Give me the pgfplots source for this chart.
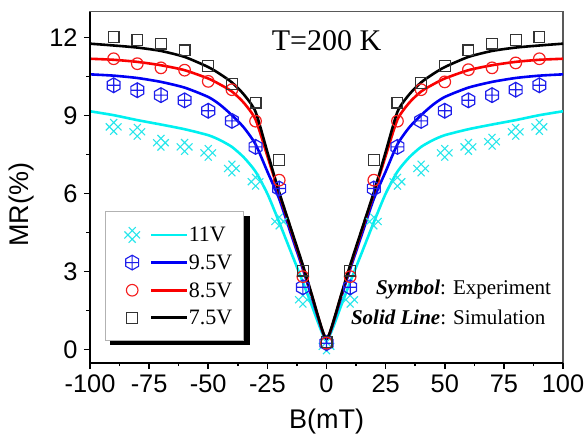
\documentclass[border=0pt]{standalone}
\usepackage{fontspec}
\setmainfont{Liberation Serif}
\newfontfamily\arial{Liberation Sans}
\usepackage{pgfplots}
\usepackage{pgfplotstable}
\pgfplotsset{compat=1.18}

\definecolor{mcyan}{RGB}{40,230,235}
\definecolor{lcyan}{RGB}{0,240,240}
\definecolor{mblue}{RGB}{30,30,235}
\definecolor{lblue}{RGB}{0,0,245}
\definecolor{mred}{RGB}{245,30,30}
\definecolor{lred}{RGB}{250,0,0}

\pgfdeclareplotmark{dblx}{%
  \pgfpathmoveto{\pgfpoint{-\pgfplotmarksize}{-0.45\pgfplotmarksize}}%
  \pgfpathlineto{\pgfpoint{0.45\pgfplotmarksize}{\pgfplotmarksize}}%
  \pgfpathmoveto{\pgfpoint{-0.45\pgfplotmarksize}{-\pgfplotmarksize}}%
  \pgfpathlineto{\pgfpoint{\pgfplotmarksize}{0.45\pgfplotmarksize}}%
  \pgfpathmoveto{\pgfpoint{-0.45\pgfplotmarksize}{\pgfplotmarksize}}%
  \pgfpathlineto{\pgfpoint{\pgfplotmarksize}{-0.45\pgfplotmarksize}}%
  \pgfpathmoveto{\pgfpoint{-\pgfplotmarksize}{0.45\pgfplotmarksize}}%
  \pgfpathlineto{\pgfpoint{0.45\pgfplotmarksize}{-\pgfplotmarksize}}%
  \pgfusepathqstroke}
\pgfdeclareplotmark{hexplus}{%
  \pgfpathmoveto{\pgfpoint{0pt}{\pgfplotmarksize}}%
  \pgfpathlineto{\pgfpoint{0.866\pgfplotmarksize}{0.5\pgfplotmarksize}}%
  \pgfpathlineto{\pgfpoint{0.866\pgfplotmarksize}{-0.5\pgfplotmarksize}}%
  \pgfpathlineto{\pgfpoint{0pt}{-\pgfplotmarksize}}%
  \pgfpathlineto{\pgfpoint{-0.866\pgfplotmarksize}{-0.5\pgfplotmarksize}}%
  \pgfpathlineto{\pgfpoint{-0.866\pgfplotmarksize}{0.5\pgfplotmarksize}}%
  \pgfpathclose
  \pgfpathmoveto{\pgfpoint{0pt}{\pgfplotmarksize}}%
  \pgfpathlineto{\pgfpoint{0pt}{-\pgfplotmarksize}}%
  \pgfpathmoveto{\pgfpoint{-0.866\pgfplotmarksize}{0pt}}%
  \pgfpathlineto{\pgfpoint{0.866\pgfplotmarksize}{0pt}}%
  \pgfusepathqstroke}

\pgfplotsset{
  legimg/.style n args={4}{%
    legend image code/.code={%
      \pgfpathrectangle{\pgfpoint{-8.35pt}{-4pt}}{\pgfpoint{35.85pt}{8pt}}%
      \pgfusepath{use as bounding box}%
      \begin{pgfscope}
        \pgfsetstrokecolor{#1}\pgfsetlinewidth{0.55pt}%
        \pgfplotmarksize=#3\relax
        \pgfuseplotmark{#2}%
      \end{pgfscope}
      \begin{pgfscope}
        \pgfsetstrokecolor{#4}\pgfsetlinewidth{1.4pt}%
        \pgfpathmoveto{\pgfpoint{9.65pt}{0pt}}%
        \pgfpathlineto{\pgfpoint{27.5pt}{0pt}}%
        \pgfusepath{stroke}%
      \end{pgfscope}
    }}}

% experimental data
\pgfplotstableread{
x y
-90 8.57
-80 8.38
-70 7.96
-60 7.80
-50 7.57
-40 6.97
-30 6.46
-20 4.93
-10 1.92
0 0.13
10 1.92
20 4.93
30 6.46
40 6.97
50 7.57
60 7.80
70 8.00
80 8.38
90 8.57
}\expA
\pgfplotstableread{
x y
-90 10.17
-80 9.98
-70 9.79
-60 9.59
-50 9.19
-40 8.80
-30 7.80
-20 6.20
-10 2.40
0 0.25
10 2.40
20 6.20
30 7.80
40 8.80
50 9.19
60 9.59
70 9.79
80 10.00
90 10.17
}\expB
\pgfplotstableread{
x y
-90 11.19
-80 11.00
-70 10.84
-60 10.75
-50 10.32
-40 10.00
-30 8.79
-20 6.52
-10 2.81
0 0.25
10 2.81
20 6.52
30 8.79
40 10.00
50 10.30
60 10.77
70 10.84
80 11.03
90 11.19
}\expC
\pgfplotstableread{
x y
-90 12.03
-80 11.92
-70 11.77
-60 11.51
-50 10.92
-40 10.23
-30 9.50
-20 7.29
-10 3.04
0 0.30
10 3.04
20 7.29
30 9.50
40 10.26
50 10.92
60 11.51
70 11.77
80 11.92
90 12.03
}\expD

% simulation curves
\pgfplotstableread{
x y
-100 9.17
-90 9.02
-80 8.83
-70 8.66
-60 8.48
-50 8.25
-45 8.06
-40 7.80
-35 7.40
-30 6.85
-25 6.00
-20 4.90
-15 3.75
-10 2.60
-6 1.65
-4 1.15
-2 0.68
-1 0.48
0 0.40
1 0.48
2 0.68
4 1.15
6 1.65
10 2.60
15 3.75
20 4.90
25 6.00
30 6.85
35 7.40
40 7.80
45 8.06
50 8.25
60 8.48
70 8.66
80 8.83
90 9.02
100 9.17
}\simA
\pgfplotstableread{
x y
-100 10.59
-90 10.54
-80 10.45
-70 10.30
-60 10.08
-50 9.72
-45 9.42
-40 9.02
-35 8.55
-30 7.90
-25 6.85
-20 5.80
-15 4.45
-10 3.10
-6 1.95
-4 1.36
-2 0.78
-1 0.54
0 0.42
1 0.54
2 0.78
4 1.36
6 1.95
10 3.10
15 4.45
20 5.80
25 6.85
30 7.90
35 8.55
40 9.02
45 9.42
50 9.72
60 10.08
70 10.30
80 10.45
90 10.54
100 10.59
}\simB
\pgfplotstableread{
x y
-100 11.19
-90 11.15
-80 11.07
-70 10.94
-60 10.75
-50 10.43
-45 10.20
-40 9.93
-35 9.50
-30 8.85
-25 7.45
-20 6.00
-15 4.60
-10 3.20
-6 2.02
-4 1.40
-2 0.80
-1 0.55
0 0.42
1 0.55
2 0.80
4 1.40
6 2.02
10 3.20
15 4.60
20 6.00
25 7.45
30 8.85
35 9.50
40 9.93
45 10.20
50 10.43
60 10.75
70 10.94
80 11.07
90 11.15
100 11.19
}\simC
\pgfplotstableread{
x y
-100 11.77
-90 11.70
-80 11.62
-70 11.49
-60 11.26
-50 10.87
-45 10.60
-40 10.28
-35 9.82
-30 9.15
-25 7.60
-20 6.05
-15 4.65
-10 3.25
-6 2.05
-4 1.42
-2 0.82
-1 0.56
0 0.42
1 0.56
2 0.82
4 1.42
6 2.05
10 3.25
15 4.65
20 6.05
25 7.60
30 9.15
35 9.82
40 10.28
45 10.60
50 10.87
60 11.26
70 11.49
80 11.62
90 11.70
100 11.77
}\simD

\begin{document}
\begin{tikzpicture}
\begin{axis}[
  scale only axis, width=236.5pt, height=175.5pt,
  xmin=-100, xmax=100, ymin=-0.5, ymax=13,
  clip=false,
  xtick={-100,-75,...,100},
  xticklabels={-100,-75,-50,-25,0,25,50,75,100},
  ytick={0,3,6,9,12},
  minor x tick num=1, minor y tick num=1,
  tick align=outside, tick pos=left,
  major tick length=3pt, minor tick length=1.75pt,
  every tick/.style={black, line width=0.8pt},
  axis line style={draw=gray!70!black, line width=0.6pt},
  /pgf/number format/assume math mode=true,
  ticklabel style={font=\arial\fontsize{12.7}{14}\selectfont},
  yticklabel style={inner xsep=3pt},
  xticklabel style={inner ysep=3pt},
  xlabel={B(mT)}, ylabel={MR(\%)},
  label style={font=\arial\fontsize{13.5}{15}\selectfont},
  xlabel style={at={(axis description cs:0.5,-0.167)}, anchor=center},
  ylabel style={at={(axis description cs:-0.144,0.45)}, anchor=center},
  legend style={at={(axis description cs:0.0317,0.431)}, anchor=north west,
    draw=gray!60, line width=0.5pt, fill=white,
    inner xsep=5pt, inner ysep=7.5pt, row sep=5.83pt,
    font=\fontsize{11}{11}\selectfont,
    nodes={inner xsep=0.8pt, inner ysep=0pt, text height=7pt, text depth=0pt},
    cells={anchor=west}},
]
% experimental symbols
\addplot[only marks, mark=dblx, mark size=3.9pt, draw=mcyan, line width=0.55pt, forget plot] table[x=x,y=y] {\expA};
\addplot[only marks, mark=hexplus, mark size=3.7pt, draw=mblue, line width=0.6pt, forget plot] table[x=x,y=y] {\expB};
\addplot[only marks, mark=o, mark size=2.9pt, draw=mred, line width=0.6pt, forget plot] table[x=x,y=y] {\expC};
\addplot[only marks, mark=square, mark size=2.7pt, draw=black!80, line width=0.6pt, forget plot] table[x=x,y=y] {\expD};
% simulation lines
\addplot[lcyan, line width=1.3pt, smooth, tension=0.4, no marks, legimg={mcyan}{dblx}{3.9pt}{lcyan}] table[x=x,y=y] {\simA};
\addlegendentry{11V}
\addplot[lblue, line width=1.3pt, smooth, tension=0.4, no marks, legimg={mblue}{hexplus}{3.7pt}{lblue}] table[x=x,y=y] {\simB};
\addlegendentry{9.5V}
\addplot[lred, line width=1.3pt, smooth, tension=0.4, no marks, legimg={mred}{o}{2.9pt}{lred}] table[x=x,y=y] {\simC};
\addlegendentry{8.5V}
\addplot[black, line width=1.3pt, smooth, tension=0.4, no marks, legimg={black!80}{square}{2.7pt}{black}] table[x=x,y=y] {\simD};
\addlegendentry{7.5V}
\draw[black, line width=0.9pt] (rel axis cs:0,1) -- (rel axis cs:0,0) -- (rel axis cs:1,0);
% legend shadow (legend is drawn on top of it)
\fill[black] ([shift={(2.5pt,-66.6pt)}]axis description cs:0.0317,0.431) rectangle ([shift={(72.3pt,-2.5pt)}]axis description cs:0.0317,0.431);
\node[anchor=base, font=\fontsize{15}{17}\selectfont] at (axis cs:0,11.49) {T=200 K};
\node[anchor=base east, font=\fontsize{10.5}{12}\selectfont] at (axis cs:97.9,2.11) {\textbf{\textit{Symbol}}: Experiment};
\node[anchor=base east, font=\fontsize{10.5}{12}\selectfont] at (axis cs:95.5,0.96) {\textbf{\textit{Solid Line}}: Simulation};
\end{axis}
\pgfresetboundingbox
\path[use as bounding box] ([shift={(-45pt,-37pt)}]current axis.south west) rectangle ([shift={(11.5pt,5.85pt)}]current axis.north east);
\end{tikzpicture}
\end{document}
